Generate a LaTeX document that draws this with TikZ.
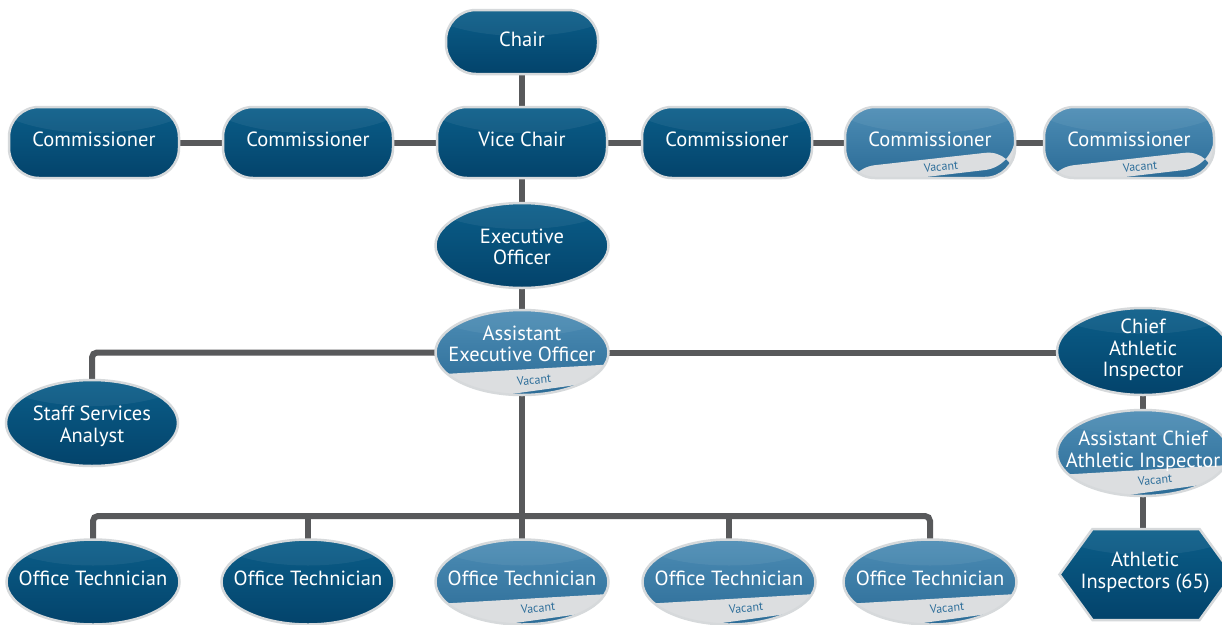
\documentclass[tikz,border=0pt]{standalone}
\usepackage{fontspec}
\setmainfont{PT Sans}
\usetikzlibrary{shapes.geometric,calc}
\pgfdeclarelayer{bg}
\pgfsetlayers{bg,main}
\definecolor{dtop}{HTML}{0B5E89}
\definecolor{dbot}{HTML}{03436B}
\definecolor{ltop}{HTML}{4D8DB5}
\definecolor{lbot}{HTML}{2C6C97}
\definecolor{rim}{HTML}{D6D9DB}
\definecolor{bandgray}{HTML}{DCDEE0}
\definecolor{vaccol}{HTML}{2D6E9A}
\definecolor{wirecol}{HTML}{58595B}
\newcommand\glossfill{\fill[white,opacity=.06] ([yshift=20pt]path picture bounding box.north) ellipse [x radius=115pt, y radius=46pt];}
\begin{document}
\begin{tikzpicture}[x=1pt,y=-1pt,
  shapebase/.style={draw=rim, line width=2.5pt, inner sep=0pt, outer sep=0pt},
  dark/.style={top color=dtop, bottom color=dbot},
  light/.style={top color=ltop, bottom color=lbot},
  pill/.style={shapebase, rectangle, rounded corners=30pt, minimum width=170pt, minimum height=71pt},
  oval/.style={shapebase, ellipse, minimum width=173pt, minimum height=85pt},
  gloss/.style={path picture={\glossfill}},
  pillband/.style={path picture={\glossfill
    \fill[bandgray] ([yshift=-26pt]path picture bounding box.west) -- ([yshift=-7pt]path picture bounding box.east)
      -- ([yshift=-24pt]path picture bounding box.east) -- ([yshift=-44pt]path picture bounding box.west) -- cycle;}},
  ovalband/.style={path picture={\glossfill
    \fill[bandgray] ([yshift=-22pt]path picture bounding box.west) -- ([yshift=-12pt]path picture bounding box.east)
      -- ([yshift=-28pt]path picture bounding box.east) -- ([yshift=-52pt]path picture bounding box.west) -- cycle;}},
  txt/.style={text=white, align=center, font=\fontsize{20.5}{21.5}\selectfont, inner sep=0pt, text depth=0pt},
  vactxt/.style={text=vaccol, font=\fontsize{12}{12}\selectfont, rotate=5, inner sep=0pt},
  wire/.style={draw=wirecol, line width=6pt, rounded corners=5pt}]
\useasboundingbox (0,0) rectangle (1222,624);

% top rows
\node[pill,dark,gloss,minimum width=152pt,minimum height=64pt] (chair) at (522,42) {};
\node[txt] (chair-t) at (522,39) {Chair};
\node[pill,dark,gloss] (c1) at (94,142.5) {};
\node[txt] (c1-t) at (94,139) {Commissioner};
\node[pill,dark,gloss] (c2) at (308,142.5) {};
\node[txt] (c2-t) at (308,139) {Commissioner};
\node[pill,dark,gloss] (vc) at (522,142.5) {};
\node[txt] (vc-t) at (522,139) {Vice Chair};
\node[pill,dark,gloss] (c3) at (727,142.5) {};
\node[txt] (c3-t) at (727,139) {Commissioner};
\node[pill,light,pillband] (c4) at (930,142.5) {};
\node[txt] (c4-t) at (930,139) {Commissioner};
\node[vactxt] (c4-v) at (941,166.5) {Vacant};
\node[pill,light,pillband] (c5) at (1129,142.5) {};
\node[txt] (c5-t) at (1129,139) {Commissioner};
\node[vactxt] (c5-v) at (1140,166.5) {Vacant};

% executive
\node[oval,dark,gloss] (eo) at (522,245.5) {};
\node[txt] (eo-t) at (522,246.5) {Executive\\Officer};
\node[oval,light,ovalband] (aeo) at (522,352.5) {};
\node[txt] (aeo-t) at (522,343.5) {Assistant\\Executive Officer};
\node[vactxt] (aeo-v) at (534,380) {Vacant};
\node[oval,dark,gloss,minimum width=172pt,minimum height=86pt] (ssa) at (92,423) {};
\node[txt] (ssa-t) at (92,424) {Staff Services\\Analyst};

% right column
\node[oval,dark,gloss,minimum width=172pt,minimum height=87pt] (cai) at (1143,351.5) {};
\node[txt] (cai-t) at (1143,348) {Chief\\Athletic\\Inspector};
\node[oval,light,ovalband,minimum width=172pt,minimum height=86pt] (acai) at (1143,453) {};
\node[txt] (acai-t) at (1143,449) {Assistant Chief\\Athletic Inspector};
\node[vactxt] (acai-v) at (1155,480) {Vacant};
\node[inner sep=0pt,outer sep=0pt,minimum width=173pt,minimum height=91pt] (ai) at (1146,574.5) {};
\path[draw=rim,line width=2.5pt,dark,gloss] (ai.west) -- ([xshift=33pt]ai.north west) -- ([xshift=-33pt]ai.north east)
  -- (ai.east) -- ([xshift=-33pt]ai.south east) -- ([xshift=33pt]ai.south west) -- cycle;
\node[txt] (ai-t) at (1145,570) {Athletic\\Inspectors (65)};

% office technicians
\node[oval,dark,gloss] (ot1) at (93,582) {};
\node[txt] (ot1-t) at (93,578) {Office Technician};
\node[oval,dark,gloss] (ot2) at (308,582) {};
\node[txt] (ot2-t) at (308,578) {Office Technician};
\node[oval,light,ovalband] (ot3) at (522,582) {};
\node[txt] (ot3-t) at (522,578) {Office Technician};
\node[vactxt] (ot3-v) at (538,608) {Vacant};
\node[oval,light,ovalband] (ot4) at (729,582) {};
\node[txt] (ot4-t) at (729,578) {Office Technician};
\node[vactxt] (ot4-v) at (746,608) {Vacant};
\node[oval,light,ovalband] (ot5) at (930,582) {};
\node[txt] (ot5-t) at (930,578) {Office Technician};
\node[vactxt] (ot5-v) at (947,608) {Vacant};

\coordinate (bus) at (522,516);

\begin{pgfonlayer}{bg}
\fill[white] (0,0) rectangle (1222,624);
\draw[wire] (chair.south) -- (vc.north);
\draw[wire] (c1.east) -- (c2.west);
\draw[wire] (c2.east) -- (vc.west);
\draw[wire] (vc.east) -- (c3.west);
\draw[wire] (c3.east) -- (c4.west);
\draw[wire] (c4.east) -- (c5.west);
\draw[wire] (vc.south) -- (eo.north);
\draw[wire] (eo.south) -- (aeo.north);
\draw[wire] (ssa.north) |- (aeo.west);
\draw[wire] (aeo.east) -- (aeo.east -| cai.west);
\draw[wire] (aeo.south) -- (ot3.north);
\draw[wire] (ot1.north) |- (bus) -| (ot5.north);
\draw[wire] (ot2.north) -- (ot2.north |- bus);
\draw[wire] (ot4.north) -- (ot4.north |- bus);
\draw[wire] (cai.south) -- (acai.north);
\draw[wire] (acai.south) -- (acai.south |- ai.north);
\end{pgfonlayer}
\end{tikzpicture}
\end{document}
